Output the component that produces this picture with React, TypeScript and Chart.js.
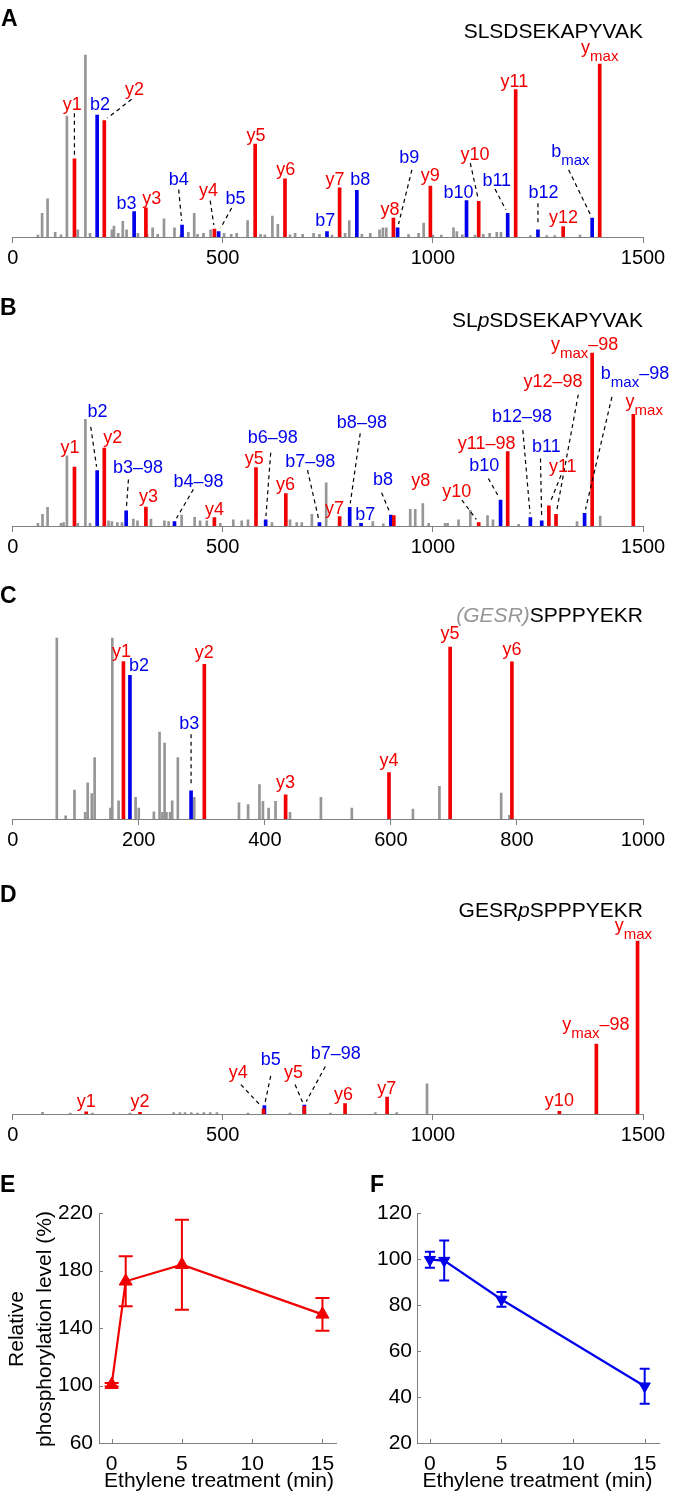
import React, { useEffect, useRef } from 'react';
import { Chart, registerables } from 'chart.js';
Chart.register(...registerables);

const FONT = '"Liberation Sans", Arial, Helvetica, sans-serif';
const RED = 'rgb(240,0,0)';
const BLUE = 'rgb(0,0,235)';
const GRAY = 'rgb(150,150,150)';
const AXIS = 'rgb(128,128,128)';

// ---------- Panel A : SLSDSEKAPYVAK ----------
const A_grayMz = [60,70,83,101,115,129,155,173,184,236,241,251,262,271,298,320,333,345,360,385,400,418,432,440,454,471,503,520,533,559,590,600,618,631,660,672,690,716,730,760,791,801,831,851,873,881,889,942,966,978,1000,1020,1049,1057,1070,1100,1120,1135,1152,1162,1232,1271,1290,1350];
const A_grayInt = [1,13,21,2.5,1.2,66.5,4,100,2,4,6,2,8.6,4,2,1.5,5,1.5,10,5,1,2.5,13,1.5,2,4,2,1.5,2,9,1.5,1.2,11.5,7,1.2,2,1.5,2,1.5,1,2,9,1.5,2,4,5,5,1.3,2,7.7,1,1,5,3,1.2,1,1.5,2,2.5,2.5,0.8,0.8,0.8,1];
const A_ionLabel = ['y1','b2','y2','b3','y3','b4','y4','b5','y5','y6','b7','y7','b8','y8','b9','y9','b10','y10','b11','y11','b12','y12','b|max','y|max'];
const A_ionMz = [147,201,218,289,317,403,480,490,577,648,748,778,819,906,916,994,1080,1109,1178,1197,1250,1310,1379,1397];
const A_ionInt = [43,67,64,14,16,6.6,4.4,3,51,32,3,27,25.6,10.4,5,28,20,19.6,13,81,4,5.7,10.4,95];
const A_labelMz = [142,208,290,271,331,395,466,530,579,650,744,767,827,898,944,994,1061,1100,1152,1194,1263,1311,1327,1397];
const A_labelInt = [70,70,78,15.4,18,28.7,22.5,18,52.5,34,6,28.7,28.7,12,40.6,30.5,21.4,42.5,27.8,82.6,21.4,7.7,44,101];
const A_leadMz = [146.8,null,283,null,null,395,470,521,null,null,null,null,null,null,950,null,null,1089,1148,null,1250,null,1323,null];
const A_leadInt = [68,null,75.7,null,null,26,20,15.9,null,null,null,null,null,null,36.9,null,null,40.6,26.3,null,18.6,null,36.9,null];

// ---------- Panel B : SLpSDSEKAPYVAK ----------
const B_grayMz = [60,71,83,115,121,129,155,173,184,228,236,249,260,287,297,329,361,371,402,433,446,462,494,525,545,560,617,660,676,688,712,746,857,882,946,958,976,990,1029,1035,1061,1089,1130,1143,1204,1343,1398];
const B_grayInt = [1.5,6.7,10.8,1.5,2,40.6,1.5,61.7,1.5,3,2.5,2,2,4,3,4,3,2.5,6.3,5,3,3,1.5,3.5,3,3.5,2,3.5,2,2,6.7,25,2.5,1.2,9.6,9.6,13,1.5,1.5,1.5,3.5,9,6,3.5,1,2.5,5.8];
const B_ionLabel = ['y1','b2','y2','b3–98','y3','b4–98','y4','y5','b6–98','y6','b7–98','y7','b8–98','b7','b8','y8','y10','b10','y11–98','b12–98','b11','y11','y12–98','b|max|–98','y|max|–98','y|max'];
const B_ionMz = [147,201,218,270,317,385,480,579,602,650,730,778,802,829,900,907,1109,1161,1178,1232,1259,1276,1293,1361,1379,1477];
const B_ionInt = [34,32,45,8.7,11,2.5,4.8,33.7,3.5,18.8,2,5.4,10.8,1.5,6.3,6,2,15,43,4.8,3,11.7,6.7,7.3,100,64.6];
const B_labelMz = [136.5,202,238,298,323,442,480,575,619,649,708,766,831,839,881,971,1057,1122,1128,1212,1270,1309,1286,1481,1361,1503];
const B_labelInt = [42.3,63,47.7,30.4,13.7,22.7,6.5,35.6,47.7,20.8,34,7,56.7,3.2,23.7,23,16.5,32,44.4,60,43,31,80.4,85,101.5,68.8];
const B_leadMz = [null,185.7,null,275.4,null,430,null,null,614,null,701.6,null,827,null,878,null,1069,1132,null,1214,1256,1305,1346,1426,null,null];
const B_leadInt = [null,57.3,null,26.9,null,21.2,null,null,42.3,null,32.3,null,53.5,null,19.2,null,15,27.5,null,55.4,39,29.4,76,74.6,null,null];

// ---------- Panel C : (GESR)SPPPYEKR ----------
const C_grayMz = [70,84,98,115,119,125.5,130,155,158,168,195,200,224,233,237.6,241,244,249.7,253,262,288,359,373.5,391.5,397,406,417,440,489,538,635,677,775,788];
const C_grayInt = [100,1.8,16,3.7,20,14,34,6,100,10,12,6,4,48,3.7,42,3.7,3.7,10,34,12,9,8,19,9.7,6,9.7,3.7,12,6,5.5,18,14.3,2];
const C_ionLabel = ['y1','b2','b3','y2','y3','y4','y5','y6'];
const C_ionMz = [175.7,186,283,304,433,597,694,792];
const C_ionInt = [87,79.4,15.6,85.5,13.4,25.7,95,86.8];
const C_labelMz = [172.5,200.5,280,304,433,597,694,792];
const C_labelInt = [89.5,81.6,49.5,89,17,29.5,99.5,90.5];
const C_leadMz = [null,null,283,null,null,null,null,null];
const C_leadInt = [null,null,46.8,null,null,null,null,null];

// ---------- Panel D : GESRpSPPPYEKR ----------
const D_grayMz = [71,137,190,279,383,398,410,425,440,455,470,486,560,660,756,863,914,986];
const D_grayInt = [1,0.6,0.5,0.6,0.8,0.8,0.8,0.8,0.6,0.8,0.8,0.8,0.5,0.6,0.6,0.8,0.8,17.5];
const D_ionLabel = ['y1','y2','b5','y4','b7–98','y5','y6','y7','y10','y|max|–98','y|max'];
const D_ionMz = [175,303,599,597,694,694,791,891,1301,1389,1487];
const D_ionInt = [1.2,1,4.8,3,5.2,4.4,6,9.8,1.5,40.4,100];
const D_labelMz = [175,303,614,537,769,668,787,890,1301,1388,1477];
const D_labelInt = [4,4,28.5,20.8,31.7,20.8,8,11.7,4.4,48.3,106];
const D_leadMz = [null,null,614,543,744,672,null,null,null,null,null];
const D_leadInt = [null,null,22,17,27.5,17,null,null,null,null,null];

// ---------- Panels E, F ----------
const E_time = [0, 1, 5, 15];
const E_level = [100.5, 172.5, 184, 149.5];
const E_sd = [1.2, 17.4, 31.3, 11.4];
const F_time = [0, 1, 5, 15];
const F_level = [99.7, 99.3, 82.4, 44.7];
const F_sd = [3.5, 8.7, 3.2, 7.6];

type Part = { t: string; color?: string; italic?: boolean };
type Spec = {
  key: string; letter: string; letterX: number; letterBase: number;
  top: number; height: number; baseline: number; fullPx: number;
  xMax: number; step: number; title: Part[]; titleBase: number;
  grayMz: number[]; grayInt: number[];
  ionLabel: string[]; ionMz: number[]; ionInt: number[];
  labelMz: number[]; labelInt: number[]; leadMz: (number | null)[]; leadInt: (number | null)[];
};

const SPECS: Spec[] = [
  { key: 'A', letter: 'A', letterX: 1, letterBase: 26, top: 0, height: 270, baseline: 237, fullPx: 182,
    xMax: 1500, step: 500, title: [{ t: 'SLSDSEKAPYVAK' }], titleBase: 38,
    grayMz: A_grayMz, grayInt: A_grayInt, ionLabel: A_ionLabel, ionMz: A_ionMz, ionInt: A_ionInt,
    labelMz: A_labelMz, labelInt: A_labelInt, leadMz: A_leadMz, leadInt: A_leadInt },
  { key: 'B', letter: 'B', letterX: 0, letterBase: 315, top: 270, height: 290, baseline: 526, fullPx: 173,
    xMax: 1500, step: 500, title: [{ t: 'SL' }, { t: 'p', italic: true }, { t: 'SDSEKAPYVAK' }], titleBase: 327,
    grayMz: B_grayMz, grayInt: B_grayInt, ionLabel: B_ionLabel, ionMz: B_ionMz, ionInt: B_ionInt,
    labelMz: B_labelMz, labelInt: B_labelInt, leadMz: B_leadMz, leadInt: B_leadInt },
  { key: 'C', letter: 'C', letterX: 0, letterBase: 603, top: 560, height: 290, baseline: 819, fullPx: 181,
    xMax: 1000, step: 200, title: [{ t: '(GESR)', color: GRAY, italic: true }, { t: 'SPPPYEKR' }], titleBase: 621.5,
    grayMz: C_grayMz, grayInt: C_grayInt, ionLabel: C_ionLabel, ionMz: C_ionMz, ionInt: C_ionInt,
    labelMz: C_labelMz, labelInt: C_labelInt, leadMz: C_leadMz, leadInt: C_leadInt },
  { key: 'D', letter: 'D', letterX: 0, letterBase: 902, top: 850, height: 295, baseline: 1114, fullPx: 173,
    xMax: 1500, step: 500, title: [{ t: 'GESR' }, { t: 'p', italic: true }, { t: 'SPPPYEKR' }], titleBase: 916.5,
    grayMz: D_grayMz, grayInt: D_grayInt, ionLabel: D_ionLabel, ionMz: D_ionMz, ionInt: D_ionInt,
    labelMz: D_labelMz, labelInt: D_labelInt, leadMz: D_leadMz, leadInt: D_leadInt },
];

function drawIonLabel(ctx: CanvasRenderingContext2D, lab: string, cx: number, by: number, color: string) {
  const parts = lab.split('|');
  const pre = parts[0], sub = parts[1] || '', post = parts[2] || '';
  const mainF = `18px ${FONT}`, subF = `15px ${FONT}`;
  ctx.font = mainF; const w1 = ctx.measureText(pre).width; const w3 = ctx.measureText(post).width;
  ctx.font = subF; const w2 = sub ? ctx.measureText(sub).width : 0;
  let x = cx - (w1 + w2 + w3) / 2;
  ctx.fillStyle = color; ctx.textAlign = 'left'; ctx.textBaseline = 'alphabetic';
  ctx.font = mainF; ctx.fillText(pre, x, by); x += w1;
  if (sub) { ctx.font = subF; ctx.fillText(sub, x, by + 8); x += w2; }
  if (post) { ctx.font = mainF; ctx.fillText(post, x, by); }
}

function makeSpecPlugin(s: Spec) {
  return {
    id: 'spec' + s.key,
    afterDraw(chart: any) {
      const ctx = chart.ctx as CanvasRenderingContext2D;
      const xs = chart.scales.x, ys = chart.scales.y;
      ctx.save();
      ctx.strokeStyle = '#000'; ctx.lineWidth = 1.2; ctx.setLineDash([4, 3.5]);
      s.ionMz.forEach((mz, i) => {
        const lm = s.leadMz[i], li = s.leadInt[i];
        if (lm == null || li == null) return;
        const x1 = xs.getPixelForValue(lm), y1 = ys.getPixelForValue(li);
        const x2 = xs.getPixelForValue(mz), y2 = ys.getPixelForValue(s.ionInt[i]);
        const dx = x2 - x1, dy = y2 - y1, L = Math.hypot(dx, dy) || 1;
        ctx.beginPath(); ctx.moveTo(x1, y1); ctx.lineTo(x2 - dx / L * 4, y2 - dy / L * 4); ctx.stroke();
      });
      ctx.setLineDash([]);
      s.ionLabel.forEach((lab, i) => {
        drawIonLabel(ctx, lab, xs.getPixelForValue(s.labelMz[i]), ys.getPixelForValue(s.labelInt[i]), lab[0] === 'y' ? RED : BLUE);
      });
      const fontFor = (p: Part) => `${p.italic ? 'italic ' : ''}21px ${FONT}`;
      let total = 0;
      s.title.forEach(p => { ctx.font = fontFor(p); total += ctx.measureText(p.t).width; });
      let x = xs.right - total;
      const ty = s.titleBase - s.top;
      ctx.textAlign = 'left'; ctx.textBaseline = 'alphabetic';
      s.title.forEach(p => { ctx.font = fontFor(p); ctx.fillStyle = p.color || '#000'; ctx.fillText(p.t, x, ty); x += ctx.measureText(p.t).width; });
      ctx.font = `bold 23px ${FONT}`; ctx.fillStyle = '#000';
      ctx.fillText(s.letter, s.letterX, s.letterBase - s.top);
      ctx.restore();
    },
  };
}

function Spectrum({ s }: { s: Spec }) {
  const ref = useRef<HTMLCanvasElement>(null);
  useEffect(() => {
    const yMax = 100 * (s.baseline - s.top) / s.fullPx;
    const axisH = s.top + s.height - s.baseline;
    const gray = s.grayMz.map((x, i) => ({ x, y: s.grayInt[i] }));
    const red: any[] = [], blue: any[] = [];
    s.ionMz.forEach((x, i) => (s.ionLabel[i][0] === 'y' ? red : blue).push({ x, y: s.ionInt[i] }));
    const chart = new Chart(ref.current as HTMLCanvasElement, {
      type: 'bar',
      data: {
        datasets: [
          { data: red, backgroundColor: RED, barThickness: 3, grouped: false, borderWidth: 0 } as any,
          { data: blue, backgroundColor: BLUE, barThickness: 3, grouped: false, borderWidth: 0 } as any,
          { data: gray, backgroundColor: GRAY, barThickness: 2, grouped: false, borderWidth: 0 } as any,
        ],
      },
      options: {
        animation: false, responsive: false, devicePixelRatio: 1,
        layout: { padding: { left: 12.7, right: 33, top: 0, bottom: 0 } },
        plugins: { legend: { display: false }, tooltip: { enabled: false } },
        scales: {
          x: {
            type: 'linear', min: 0, max: s.xMax, offset: false,
            ticks: { stepSize: s.step, font: { family: FONT, size: 20 }, color: '#000', padding: 3, maxRotation: 0, autoSkip: false,
              callback: (v: any) => String(v) },
            grid: { display: true, drawOnChartArea: false, drawTicks: true, tickLength: 6, color: AXIS, offset: false },
            border: { display: true, color: AXIS, width: 1 },
            afterFit: (sc: any) => { sc.height = axisH; },
          } as any,
          y: { display: false, min: 0, max: yMax },
        },
      },
      plugins: [makeSpecPlugin(s)],
    });
    return () => chart.destroy();
  }, []);
  return <canvas ref={ref} width={676} height={s.height}
    style={{ position: 'absolute', left: 0, top: s.top, width: 676, height: s.height }} />;
}

type Trend = {
  key: string; letter: string; left: number; width: number; axisW: number; padRight: number; yPad: number;
  time: number[]; level: number[]; sd: number[]; color: string; rot: number; radius: number; cap: number;
  yMin: number; yMax: number; yStep: number; letterX: number; xTitleX: number; yTitle: boolean;
};

const TOP_T = 1145, H_T = 348;
const TRENDS: Trend[] = [
  { key: 'E', letter: 'E', left: 0, width: 345, axisW: 99, padRight: 6, yPad: 6, time: E_time, level: E_level, sd: E_sd,
    color: RED, rot: 0, radius: 7.5, cap: 7, yMin: 60, yMax: 220, yStep: 40, letterX: 0, xTitleX: 219, yTitle: true },
  { key: 'F', letter: 'F', left: 338, width: 338, axisW: 79, padRight: 17, yPad: 5, time: F_time, level: F_level, sd: F_sd,
    color: BLUE, rot: 180, radius: 6.5, cap: 5, yMin: 20, yMax: 120, yStep: 20, letterX: 32, xTitleX: 199.5, yTitle: false },
];

function makeTrendPlugin(p: Trend) {
  return {
    id: 'trend' + p.key,
    beforeDatasetsDraw(chart: any) {
      const ctx = chart.ctx as CanvasRenderingContext2D;
      const xs = chart.scales.x, ys = chart.scales.y;
      ctx.save(); ctx.strokeStyle = p.color; ctx.lineWidth = 2;
      p.time.forEach((t, i) => {
        const x = xs.getPixelForValue(t);
        const yt = ys.getPixelForValue(p.level[i] + p.sd[i]);
        const yb = ys.getPixelForValue(p.level[i] - p.sd[i]);
        ctx.beginPath();
        ctx.moveTo(x, yt); ctx.lineTo(x, yb);
        ctx.moveTo(x - p.cap, yt); ctx.lineTo(x + p.cap, yt);
        ctx.moveTo(x - p.cap, yb); ctx.lineTo(x + p.cap, yb);
        ctx.stroke();
      });
      ctx.restore();
    },
    afterDraw(chart: any) {
      const ctx = chart.ctx as CanvasRenderingContext2D;
      const xs = chart.scales.x, ys = chart.scales.y;
      const area = chart.chartArea;
      ctx.save();
      ctx.strokeStyle = AXIS; ctx.lineWidth = 1;
      xs.ticks.forEach((tk: any) => {
        const x = Math.round(xs.getPixelForValue(tk.value)) + 0.5;
        ctx.beginPath(); ctx.moveTo(x, area.bottom); ctx.lineTo(x, area.bottom - 4); ctx.stroke();
      });
      ys.ticks.forEach((tk: any) => {
        const y = Math.round(ys.getPixelForValue(tk.value)) + 0.5;
        ctx.beginPath(); ctx.moveTo(area.left, y); ctx.lineTo(area.left + 4, y); ctx.stroke();
      });
      ctx.fillStyle = '#000';
      ctx.font = `21px ${FONT}`; ctx.textAlign = 'center'; ctx.textBaseline = 'alphabetic';
      ctx.fillText('Ethylene treatment (min)', p.xTitleX, 341.5);
      if (p.yTitle) {
        const lines: [string, number][] = [['Relative', 23], ['phosphorylation level (%)', 51]];
        lines.forEach(([txt, bx]) => {
          ctx.save(); ctx.translate(bx, 184); ctx.rotate(-Math.PI / 2); ctx.fillText(txt, 0, 0); ctx.restore();
        });
      }
      ctx.font = `bold 23px ${FONT}`; ctx.textAlign = 'left';
      ctx.fillText(p.letter, p.letterX, 1192 - TOP_T);
      ctx.restore();
    },
  };
}

function TrendChart({ p }: { p: Trend }) {
  const ref = useRef<HTMLCanvasElement>(null);
  useEffect(() => {
    const chart = new Chart(ref.current as HTMLCanvasElement, {
      type: 'line',
      data: {
        datasets: [{
          data: p.time.map((x, i) => ({ x, y: p.level[i] })),
          borderColor: p.color, backgroundColor: p.color, borderWidth: 2.2,
          pointStyle: 'triangle', pointRadius: p.radius, pointRotation: p.rot,
          pointBackgroundColor: p.color, pointBorderColor: p.color, pointBorderWidth: 1, tension: 0,
        }],
      },
      options: {
        animation: false, responsive: false, devicePixelRatio: 1,
        layout: { padding: { left: 0, top: 68, right: p.padRight, bottom: 0 } },
        plugins: { legend: { display: false }, tooltip: { enabled: false } },
        scales: {
          x: {
            type: 'linear', min: -0.9, max: 16,
            ticks: { stepSize: 5, includeBounds: false, font: { family: FONT, size: 21 }, color: '#000', padding: 9, maxRotation: 0 },
            grid: { display: false, drawTicks: false }, border: { display: true, color: AXIS, width: 1 },
            afterFit: (sc: any) => { sc.height = 50; },
          } as any,
          y: {
            min: p.yMin, max: p.yMax,
            ticks: { stepSize: p.yStep, includeBounds: false, font: { family: FONT, size: 21 }, color: '#000', padding: p.yPad },
            grid: { display: false, drawTicks: false }, border: { display: true, color: AXIS, width: 1 },
            afterFit: (sc: any) => { sc.width = p.axisW; },
          } as any,
        },
      },
      plugins: [makeTrendPlugin(p)],
    });
    return () => chart.destroy();
  }, []);
  return <canvas ref={ref} width={p.width} height={H_T}
    style={{ position: 'absolute', left: p.left, top: TOP_T, width: p.width, height: H_T }} />;
}

export default function App() {
  useEffect(() => { document.body.style.margin = '0'; }, []);
  return (
    <div style={{ position: 'absolute', left: 0, top: 0, width: 676, height: 1493, background: '#fff' }}>
      {SPECS.map(s => <Spectrum key={s.key} s={s} />)}
      {TRENDS.map(p => <TrendChart key={p.key} p={p} />)}
    </div>
  );
}
